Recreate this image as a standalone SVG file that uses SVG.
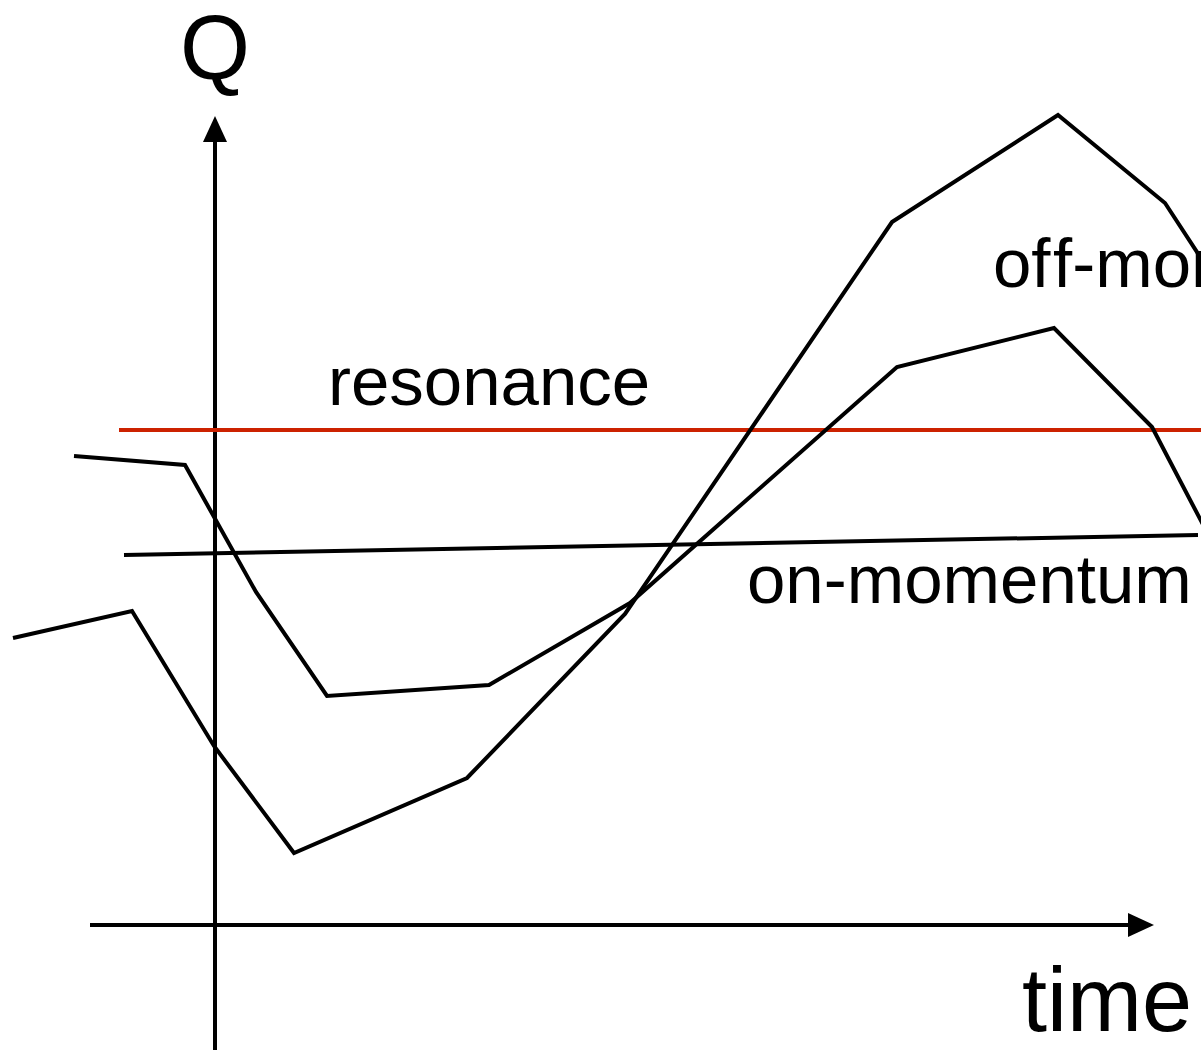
<svg xmlns="http://www.w3.org/2000/svg" width="1201" height="1050" viewBox="0 0 1201 1050">
<style>
.ln{fill:none;stroke:#000;stroke-width:4;stroke-linejoin:miter}
.lbl{font-family:"Liberation Sans",Arial,sans-serif;fill:#000;font-variant-ligatures:none;font-feature-settings:"liga" 0}
</style>
<rect width="1201" height="1050" fill="#fff"/>
<g id="axes">
<line class="ln" x1="215" y1="1050" x2="215" y2="138"/>
<polygon points="215,116 203,142 227,142" fill="#000"/>
<line class="ln" x1="90" y1="925" x2="1132" y2="925"/>
<polygon points="1154,925 1128,913 1128,937" fill="#000"/>
</g>
<g id="resonance-line">
<line x1="119" y1="430" x2="1201" y2="430" stroke="#cc2200" stroke-width="4"/>
</g>
<g id="on-momentum-line">
<line class="ln" x1="124" y1="555" x2="1198" y2="535"/>
</g>
<g id="curve-upper">
<polyline class="ln" points="74,456 185,465 256,592 327,696 489,685 630,603 897,367 1054,328 1152,427 1210,538"/>
</g>
<g id="curve-lower">
<polyline class="ln" points="13,638 132,611 214,746 294,853 467,778 625,614 892,222 1058,115 1165,203 1210,272"/>
</g>
<g id="labels">
<text class="lbl" x="180" y="79" font-size="90">Q</text>
<text class="lbl" x="1022" y="1031" font-size="90">time</text>
<text class="lbl" x="328" y="405" font-size="69">resonance</text>
<text class="lbl" x="747" y="603" font-size="69">on-momentum</text>
<text class="lbl" x="993" y="287" font-size="69">of<tspan x="1053">f-momentum</tspan></text>
</g>
</svg>
